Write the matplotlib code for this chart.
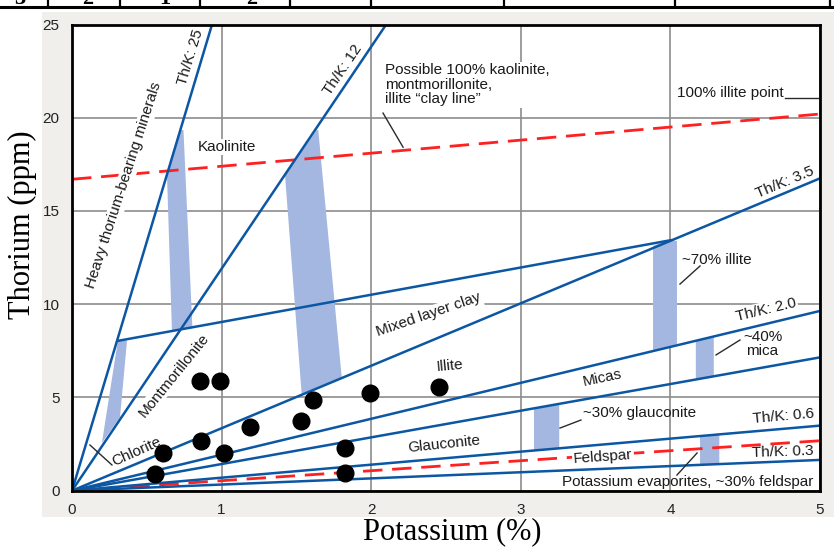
import matplotlib
matplotlib.use('Agg')
import matplotlib.pyplot as plt
from matplotlib.patches import Rectangle, Polygon
from matplotlib.lines import Line2D
import numpy as np

# ---- data (K in %, Th in ppm) ----
# ratio lines from the origin: end points
RATIO_END_K = [0.936, 2.10, 5.0, 5.0, 5.0, 5.0, 5.0]
RATIO_END_TH = [25.0, 25.0, 16.75, 9.64, 7.15, 3.49, 1.65]

# mixed layer clay upper boundary
MIXED_K = [0.31, 4.0]
MIXED_TH = [8.04, 13.43]

# red dashed lines
CLAY_K = [0.0, 5.0]
CLAY_TH = [16.7, 20.2]
FELD_K = [0.0, 5.0]
FELD_TH = [0.0, 2.68]

# shaded bands (polygons)
BANDS = [
    [(0.307, 8.06), (0.368, 8.06), (0.321, 3.95), (0.20, 2.56)],               # chlorite
    [(0.722, 19.34), (0.745, 19.34), (0.805, 8.72), (0.668, 8.58), (0.635, 16.9)],  # kaolinite
    [(1.635, 19.34), (1.646, 19.34), (1.803, 6.08), (1.535, 5.2), (1.424, 16.9)],   # illite
    [(3.884, 13.12), (3.984, 13.44), (4.044, 13.39), (4.044, 7.85), (3.884, 7.52)],  # ~70% illite
    [(4.17, 8.05), (4.29, 8.28), (4.29, 6.13), (4.17, 5.96)],                  # ~40% mica
    [(3.088, 4.42), (3.257, 4.66), (3.257, 2.30), (3.088, 2.17)],              # ~30% glauconite
    [(4.198, 2.92), (4.327, 3.02), (4.327, 1.43), (4.198, 1.39)],              # feldspar
]

# sample points
PTS_K = [0.856, 0.989, 1.613, 1.992, 2.455, 1.19, 1.529, 0.86, 0.61, 1.018, 1.825, 0.555, 1.825]
PTS_TH = [5.90, 5.90, 4.86, 5.25, 5.58, 3.40, 3.72, 2.68, 2.0, 2.0, 2.31, 0.90, 0.97]

XTICKS = [0, 1, 2, 3, 4, 5]
YTICKS = [0, 5, 10, 15, 20, 25]

BLUE = '#0b57a4'
SHADE = '#a3b7e0'
RED = '#ff2020'
SANS = 'Liberation Sans'
SERIF = 'Liberation Serif'
FS = 11

W, H = 834, 549
fig = plt.figure(figsize=(W / 100, H / 100), dpi=100)
fig.patch.set_facecolor('white')

# grey panel behind the chart
fig.add_artist(Rectangle((42 / W, 1 - 517 / H), 1 - 42 / W, (517 - 12) / H,
                         transform=fig.transFigure, facecolor='#f1efeb', edgecolor='none', zorder=0))

# cut-off table above the figure
fig.add_artist(Line2D([0, 1], [1 - 7 / H, 1 - 7 / H], transform=fig.transFigure, color='black', lw=2.2))
for xp in [48, 120, 200, 290, 371, 504, 675, 830]:
    fig.add_artist(Line2D([xp / W, xp / W], [1 - 7 / H, 1], transform=fig.transFigure, color='black', lw=1.6))
for xp, s in [(20, '3'), (88, '2'), (165, '1'), (252, '2')]:
    fig.text(xp / W, 1 - 4 / H, s, fontsize=16, fontweight='bold', family=SERIF, ha='center', va='baseline')

ax = fig.add_axes([72 / W, 1 - 490.7 / H, (820 - 72) / W, (490.7 - 24.5) / H])
ax.set_facecolor('white')
ax.set_xlim(0, 5)
ax.set_ylim(0, 25)
ax.set_xticks(XTICKS)
ax.set_yticks(YTICKS)
ax.tick_params(length=0, labelsize=11, pad=9, labelcolor='#222222')
for lab in ax.get_xticklabels() + ax.get_yticklabels():
    lab.set_family(SANS)
ax.grid(True, color='#8c8c8c', lw=1.2, zorder=0.3)
ax.set_axisbelow(True)
for sp in ax.spines.values():
    sp.set_linewidth(2)
    sp.set_color('black')
    sp.set_zorder(6)

for poly in BANDS:
    ax.add_patch(Polygon(poly, closed=True, facecolor=SHADE, edgecolor='none', zorder=1))

for k, th in zip(RATIO_END_K, RATIO_END_TH):
    ax.plot([0, k], [0, th], color=BLUE, lw=1.8, zorder=2, solid_capstyle='butt')
ax.plot(MIXED_K, MIXED_TH, color=BLUE, lw=1.8, zorder=2)

ax.plot(CLAY_K, CLAY_TH, color=RED, lw=2.0, dashes=(7, 3.5), zorder=1.3)
ax.plot(FELD_K, FELD_TH, color=RED, lw=2.0, dashes=(7, 3.5), zorder=1.3)

ax.plot(PTS_K, PTS_TH, 'o', color='black', ms=12, zorder=5, clip_on=False)

box = dict(facecolor='white', edgecolor='none', pad=1.0)
tk = dict(family=SANS, fontsize=FS, color='#1a1a1a', ha='center', va='center', rotation_mode='anchor')
tl = dict(family=SANS, fontsize=FS, color='#1a1a1a', va='center')

ax.text(0.795, 23.25, 'Th/K: 25', rotation=73, **tk)
ax.text(1.81, 22.55, 'Th/K: 12', rotation=56, **tk)
ax.text(0.348, 16.39, 'Heavy thorium-bearing minerals', rotation=72, bbox=box, zorder=1.5, **tk)
ax.text(1.036, 18.43, 'Kaolinite', bbox=box, zorder=1.5, **tk)
ax.text(2.09, 22.93, 'Possible 100% kaolinite,\nmontmorillonite,\nillite \u201cclay line\u201d',
        family=SANS, fontsize=FS, color='#1a1a1a', ha='left', va='top', linespacing=1.05,
        bbox=box, zorder=1.5)
ax.text(4.76, 21.32, '100% illite point', ha='right', **tl)
ax.text(4.766, 16.55, 'Th/K: 3.5', rotation=22.7, **tk)
ax.text(4.08, 12.37, '~70% illite', ha='left', bbox=box, zorder=1.5, **tl)
ax.text(4.64, 9.69, 'Th/K: 2.0', rotation=13.5, bbox=box, zorder=1.5, **tk)
ax.text(4.485, 7.89, '~40%\nmica', ha='left', multialignment='center', linespacing=1.0, **tl)
ax.text(3.543, 6.04, 'Micas', rotation=12, **tk)
ax.text(3.416, 4.17, '~30% glauconite', ha='left', **tl)
ax.text(4.753, 4.0, 'Th/K: 0.6', rotation=5, **tk)
ax.text(4.753, 2.08, 'Th/K: 0.3', rotation=2, **tk)
ax.text(3.55, 1.81, 'Feldspar', rotation=4, bbox=box, zorder=1.5, **tk)
ax.text(4.953, 0.47, 'Potassium evaporites, ~30% feldspar', ha='right', **tl)
ax.text(2.487, 2.5, 'Glauconite', rotation=6, **tk)
ax.text(2.527, 6.69, 'Illite', rotation=5, **tk)
ax.text(2.386, 9.42, 'Mixed layer clay', rotation=19, bbox=box, zorder=1.5, **tk)
ax.text(0.682, 6.2, 'Montmorillonite', rotation=51, bbox=box, zorder=1.5, **tk)
ax.text(0.43, 2.07, 'Chlorite', rotation=24, **tk)

# leader lines
leaders = [
    ([2.079, 2.213], [20.25, 18.42]),
    ([4.766, 4.987], [21.06, 21.06]),
    ([4.064, 4.198], [11.08, 12.05]),
    ([4.305, 4.465], [7.28, 8.08]),
    ([3.262, 3.402], [3.36, 3.79]),
    ([4.044, 4.178], [0.84, 2.02]),
    ([0.12, 0.267], [2.45, 1.38]),
]
for xs, ys in leaders:
    ax.plot(xs, ys, color='#2a2a2a', lw=1.0, zorder=3)

fig.text(22 / W, 1 - 225 / H, 'Thorium (ppm)', family=SERIF, fontsize=22, rotation=90,
         ha='center', va='center')
fig.text(452 / W, 1 - 532 / H, 'Potassium (%)', family=SERIF, fontsize=22, ha='center', va='center')

fig.savefig('out.png', dpi=100)
